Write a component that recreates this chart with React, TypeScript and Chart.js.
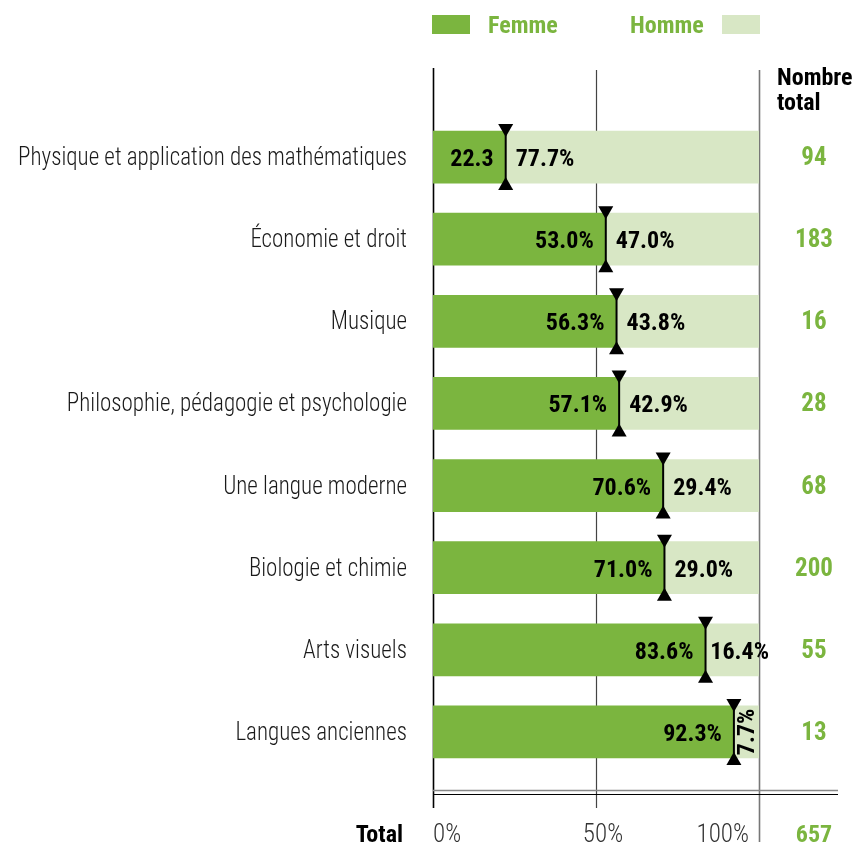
import React, { useEffect, useRef } from "react";
import { Chart, registerables } from "chart.js";

Chart.register(...registerables);

const categories = [
  "Physique et application des mathématiques",
  "Économie et droit",
  "Musique",
  "Philosophie, pédagogie et psychologie",
  "Une langue moderne",
  "Biologie et chimie",
  "Arts visuels",
  "Langues anciennes",
];
const femmeValues = [22.3, 53.0, 56.3, 57.1, 70.6, 71.0, 83.6, 92.3];
const hommeValues = [77.7, 47.0, 43.8, 42.9, 29.4, 29.0, 16.4, 7.7];
const femmeLabels = ["22.3", "53.0%", "56.3%", "57.1%", "70.6%", "71.0%", "83.6%", "92.3%"];
const hommeLabels = ["77.7%", "47.0%", "43.8%", "42.9%", "29.4%", "29.0%", "16.4%", "7.7%"];
const totals = [94, 183, 16, 28, 68, 200, 55, 13];
const grandTotal = 657;
const tickValues = [0, 50, 100];
const tickLabels = ["0%", "50%", "100%"];
const seriesNames = ["Femme", "Homme"];

const DARK = "#7bb53f";
const LIGHT = "#d8e7c5";
const FONT = "'Roboto Condensed', 'Liberation Sans Narrow', 'Liberation Sans', sans-serif";

const overlay = {
  id: "overlay",
  beforeDatasetsDraw(chart: any) {
    const { ctx, scales } = chart;
    const x = scales.x;
    ctx.save();
    const styles = [
      { c: "#000", w: 1.6, y0: 68, y1: 808 },
      { c: "#444", w: 1.2, y0: 70, y1: 808 },
      { c: "#777", w: 1.6, y0: 70, y1: 842 },
    ];
    tickValues.forEach((v, i) => {
      const px = Math.round(x.getPixelForValue(v)) + 0.5;
      const s = styles[i];
      ctx.strokeStyle = s.c;
      ctx.lineWidth = s.w;
      ctx.beginPath();
      ctx.moveTo(px, s.y0);
      ctx.lineTo(px, s.y1);
      ctx.stroke();
    });
    ctx.restore();
  },
  afterDatasetsDraw(chart: any) {
    const { ctx, scales, chartArea } = chart;
    const x = scales.x;
    const y = scales.y;
    const meta = chart.getDatasetMeta(0);
    ctx.save();

    // double baseline
    const left = x.getPixelForValue(0);
    ctx.strokeStyle = "#888";
    ctx.lineWidth = 1.5;
    ctx.beginPath();
    ctx.moveTo(left, 790.5);
    ctx.lineTo(838, 790.5);
    ctx.stroke();
    ctx.strokeStyle = "#000";
    ctx.lineWidth = 1.2;
    ctx.beginPath();
    ctx.moveTo(left, 794.5);
    ctx.lineTo(838, 794.5);
    ctx.stroke();

    categories.forEach((cat, i) => {
      const cy = y.getPixelForValue(i);
      const bar = meta.data[i];
      const h = bar.height;
      const top = cy - h / 2;
      const bot = cy + h / 2;
      const bx = x.getPixelForValue(femmeValues[i]);

      // category label (slightly condensed)
      ctx.save();
      ctx.fillStyle = "#1a1a1a";
      ctx.font = `300 25px ${FONT}`;
      ctx.textAlign = "right";
      ctx.textBaseline = "alphabetic";
      ctx.translate(chartArea.left - 26, cy + 8);
      ctx.scale(0.92, 1);
      ctx.fillText(cat, 0, 0);
      ctx.restore();

      // femme label
      ctx.fillStyle = "#000";
      ctx.font = `bold 24px ${FONT}`;
      ctx.textAlign = "right";
      ctx.textBaseline = "alphabetic";
      ctx.fillText(femmeLabels[i], bx - 12, cy + 9);

      // homme label
      const hEnd = x.getPixelForValue(femmeValues[i] + hommeValues[i]);
      const tw = ctx.measureText(hommeLabels[i]).width;
      if (hEnd - bx < tw * 0.6) {
        ctx.save();
        ctx.translate((bx + hEnd) / 2 + 1, cy);
        ctx.rotate(-Math.PI / 2);
        ctx.textAlign = "center";
        ctx.textBaseline = "middle";
        ctx.fillText(hommeLabels[i], 0, 1);
        ctx.restore();
      } else {
        ctx.textAlign = "left";
        const sx = Math.min(bx + 10, hEnd + 10 - tw);
        ctx.fillText(hommeLabels[i], sx, cy + 9);
      }

      // marker
      ctx.strokeStyle = "#000";
      ctx.lineWidth = 2;
      ctx.beginPath();
      ctx.moveTo(bx, top - 6);
      ctx.lineTo(bx, bot + 6);
      ctx.stroke();
      ctx.fillStyle = "#000";
      ctx.beginPath();
      ctx.moveTo(bx - 7.5, top - 7);
      ctx.lineTo(bx + 7.5, top - 7);
      ctx.lineTo(bx, top + 6);
      ctx.closePath();
      ctx.fill();
      ctx.beginPath();
      ctx.moveTo(bx - 7.5, bot + 7);
      ctx.lineTo(bx + 7.5, bot + 7);
      ctx.lineTo(bx, bot - 6);
      ctx.closePath();
      ctx.fill();

      // totals
      ctx.fillStyle = DARK;
      ctx.font = `bold 25px ${FONT}`;
      ctx.textAlign = "center";
      ctx.fillText(String(totals[i]), 814, cy + 8);
    });

    // header
    ctx.fillStyle = "#000";
    ctx.font = `bold 24px ${FONT}`;
    ctx.textAlign = "left";
    ctx.fillText("Nombre", 777, 85);
    ctx.fillText("total", 777, 110);

    // legend
    const ds = chart.data.datasets;
    ctx.fillStyle = ds[0].backgroundColor;
    ctx.fillRect(432, 15, 38, 19);
    ctx.fillStyle = ds[1].backgroundColor;
    ctx.fillRect(722, 15, 38, 19);
    ctx.fillStyle = DARK;
    ctx.font = `bold 24px ${FONT}`;
    ctx.textAlign = "left";
    ctx.fillText(ds[0].label, 488, 33);
    ctx.fillText(ds[1].label, 630, 33);

    // bottom row
    ctx.fillStyle = "#000";
    ctx.font = `bold 24px ${FONT}`;
    ctx.textAlign = "right";
    ctx.fillText("Total", 403, 842);
    ctx.fillStyle = DARK;
    ctx.textAlign = "center";
    ctx.fillText(String(grandTotal), 814, 842);

    ctx.fillStyle = "#333";
    ctx.font = `300 25px ${FONT}`;
    tickValues.forEach((v, i) => {
      const px = x.getPixelForValue(v);
      if (i === 0) {
        ctx.textAlign = "left";
        ctx.fillText(tickLabels[i], px, 842);
      } else if (i === tickValues.length - 1) {
        ctx.textAlign = "right";
        ctx.fillText(tickLabels[i], px - 10, 842);
      } else {
        ctx.textAlign = "center";
        ctx.fillText(tickLabels[i], px + 7, 842);
      }
    });

    ctx.restore();
  },
};

export default function App() {
  const ref = useRef<HTMLCanvasElement>(null);
  useEffect(() => {
    if (!ref.current) return;
    const chart = new Chart(ref.current, {
      type: "bar",
      data: {
        labels: categories,
        datasets: [
          { label: seriesNames[0], data: femmeValues, backgroundColor: DARK, barThickness: 52 },
          { label: seriesNames[1], data: hommeValues, backgroundColor: LIGHT, barThickness: 52 },
        ],
      },
      options: {
        indexAxis: "y",
        responsive: false,
        animation: false,
        layout: { padding: { left: 433, right: 98, top: 116, bottom: 72 } },
        scales: {
          x: { stacked: true, min: 0, max: 100, display: false },
          y: { stacked: true, display: false },
        },
        plugins: { legend: { display: false }, tooltip: { enabled: false } },
      },
      plugins: [overlay],
    });
    return () => chart.destroy();
  }, []);
  return (
    <div style={{ position: "fixed", left: 0, top: 0, width: 857, height: 845, background: "#fff" }}>
      <canvas ref={ref} width={857} height={845} />
    </div>
  );
}
